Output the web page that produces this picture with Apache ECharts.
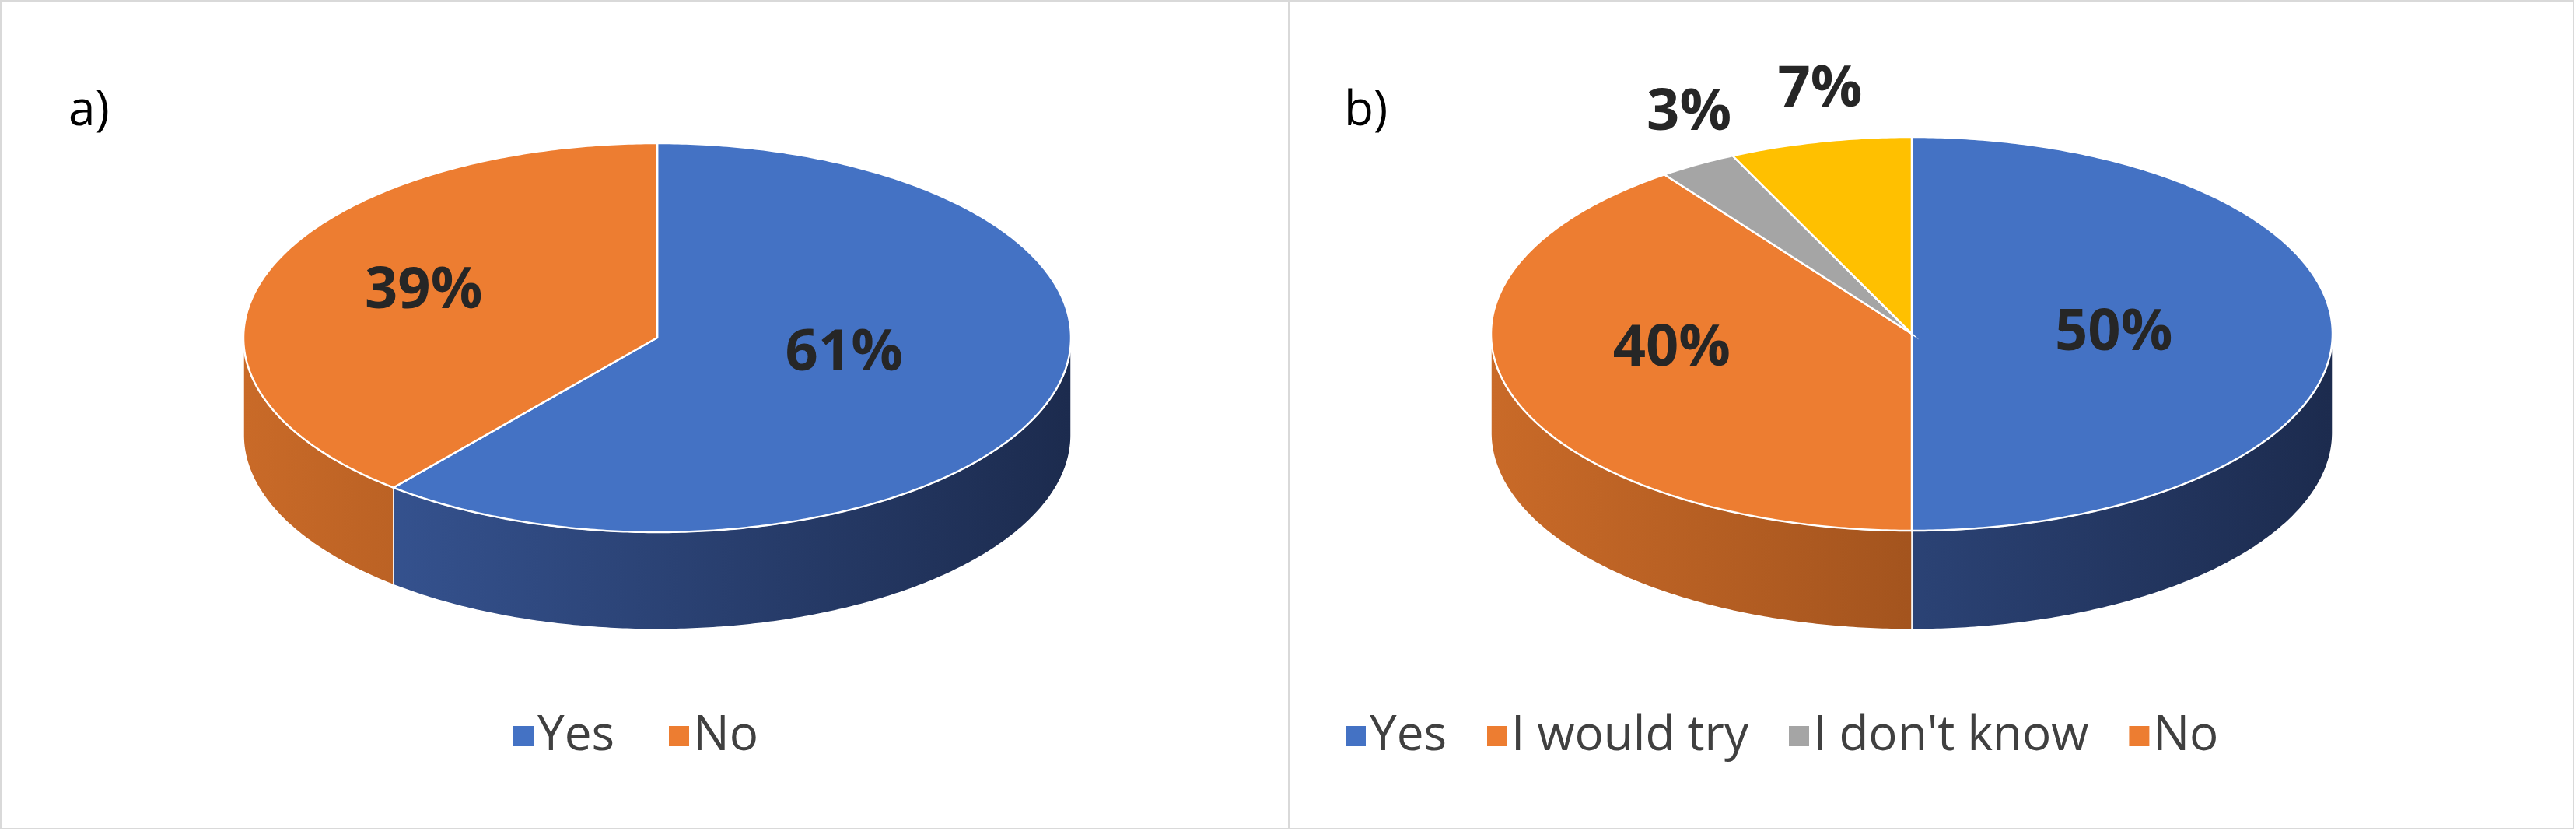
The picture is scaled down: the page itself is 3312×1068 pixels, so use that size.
<!DOCTYPE html>
<html><head><meta charset="utf-8">
<script src="https://cdn.jsdelivr.net/npm/echarts@6/dist/echarts.min.js"></script>
<style>html,body{margin:0;padding:0;background:#fff}#c{width:3312px;height:1068px}</style>
</head><body><div id="c"></div>
<script>
const namesA = ['Yes', 'No'];
const valuesA = [61, 39];
const namesB = ['Yes', 'I would try', "I don't know", 'No'];
const valuesB = [50, 40, 3, 7];
const colors = ['#4472C4', '#ED7D31', '#A5A5A5', '#FFC000'];
const colorsB = ['#4472C4', '#ED7D31', '#A5A5A5', '#FFC000'];
const wallLight = {'#4472C4':'#3A5A9C','#ED7D31':'#C96A28','#A5A5A5':'#8a8a8a','#FFC000':'#d9a300'};
const wallDark = {'#4472C4':'#1C2B4E','#ED7D31':'#7E3E14','#A5A5A5':'#555','#FFC000':'#8a6a00'};

const chart = echarts.init(document.getElementById('c'));

function makePie(names, values, cols, geo, labelR) {
  const total = values.reduce((a,b)=>a+b,0);
  const starts = []; let acc = 0;
  values.forEach(v=>{starts.push(acc/total*2*Math.PI); acc+=v;});
  const pt = (t, dy) => [geo.cx + geo.rx*Math.sin(t), geo.cy - geo.ry*Math.cos(t) + (dy||0)];
  function arc(a, b, dy) { const n = Math.max(4, Math.ceil((b-a)/0.01)); const p=[]; for(let i=0;i<=n;i++) p.push(pt(a+(b-a)*i/n, dy)); return p; }
  const data = values.map((v,i)=>({name:names[i], value:[i, v]}));
  const walls = {
    type:'custom', coordinateSystem:'none', z:1, silent:true, data,
    renderItem(params, api) {
      const i = params.dataIndex;
      const a = starts[i], b = starts[i] + values[i]/total*2*Math.PI;
      const lo = Math.max(a, Math.PI/2), hi = Math.min(b, 3*Math.PI/2);
      if (hi <= lo) return {type:'group', children:[]};
      const top = arc(lo, hi, 0), bot = arc(lo, hi, geo.depth).reverse();
      const c = cols[i];
      return {type:'polygon', shape:{points: top.concat(bot)},
        style:{fill:{type:'linear', x:geo.cx-geo.rx, y:0, x2:geo.cx+geo.rx, y2:0, global:true,
          colorStops:[{offset:0,color:wallLight[c]},{offset:1,color:wallDark[c]}]}, stroke:'#fff', lineWidth:1.5}};
    }
  };
  const tops = {
    type:'custom', coordinateSystem:'none', z:2, silent:true, data,
    renderItem(params, api) {
      const i = params.dataIndex;
      const a = starts[i], b = starts[i] + values[i]/total*2*Math.PI;
      const pts = [[geo.cx, geo.cy]].concat(arc(a, b, 0));
      const m = (a+b)/2, f = labelR[i];
      const lx = geo.cx + geo.rx*f[0]*Math.sin(m), ly = geo.cy - geo.ry*f[1]*Math.cos(m);
      return {type:'group', children:[
        {type:'polygon', shape:{points:pts}, style:{fill:cols[i], stroke:'#fff', lineWidth:2.5}},
        {type:'text', z2:10, style:{x:lx, y:ly, text:values[i]+'%', fill:'#262626',
          font:'bold 74px "Open Sans", "Liberation Sans", sans-serif', align:'center', verticalAlign:'middle'}}
      ]};
    }
  };
  return [walls, tops];
}

const geoA = {cx:845, cy:434, rx:532, ry:250, depth:125};
const geoB = {cx:2458, cy:429, rx:541, ry:253, depth:127};
const sA = makePie(namesA, valuesA, colors, geoA, [[0.48,0.25],[0.6,0.7]]);
const sB = makePie(namesB, valuesB, colorsB, geoB, [[0.48,0.1],[0.6,0.25],[1.04,1.3],[1.0,1.27]]);

function legendPie(names, values, cols, id) {
  return {type:'pie', id, name:id, radius:[0,0], center:[-100,-100], silent:true, label:{show:false},
    data: names.map((n,i)=>({name:n, value:values[i], itemStyle:{color:cols[i]}}))};
}

chart.setOption({
  animation:false,
  graphic:[
    {type:'rect', shape:{x:1,y:1,width:1656,height:1064}, style:{fill:'none', stroke:'#d9d9d9', lineWidth:2}},
    {type:'rect', shape:{x:1658,y:1,width:1651,height:1064}, style:{fill:'none', stroke:'#d9d9d9', lineWidth:2}},
    {type:'text', left:88, top:112, style:{text:'a)', font:'62px "Open Sans", sans-serif', fill:'#000'}},
    {type:'text', left:1728, top:112, style:{text:'b)', font:'62px "Open Sans", sans-serif', fill:'#000'}}
  ],
  legend:[
    {data:namesA, left:655, top:910, icon:'rect', itemWidth:26, itemHeight:26, itemGap:70,
      textStyle:{fontSize:62, color:'#404040', fontFamily:'"Open Sans", sans-serif'}, selectedMode:false},
    {data:namesB, left:1725, top:910, icon:'rect', itemWidth:26, itemHeight:26, itemGap:52,
      textStyle:{fontSize:62, color:'#404040', fontFamily:'"Open Sans", sans-serif'}, selectedMode:false}
  ],
  series: sA.concat(sB).concat([legendPie(namesA, valuesA, colors, 'la'), legendPie(namesB, valuesB, colorsB, 'lb')])
});
</script></body></html>
